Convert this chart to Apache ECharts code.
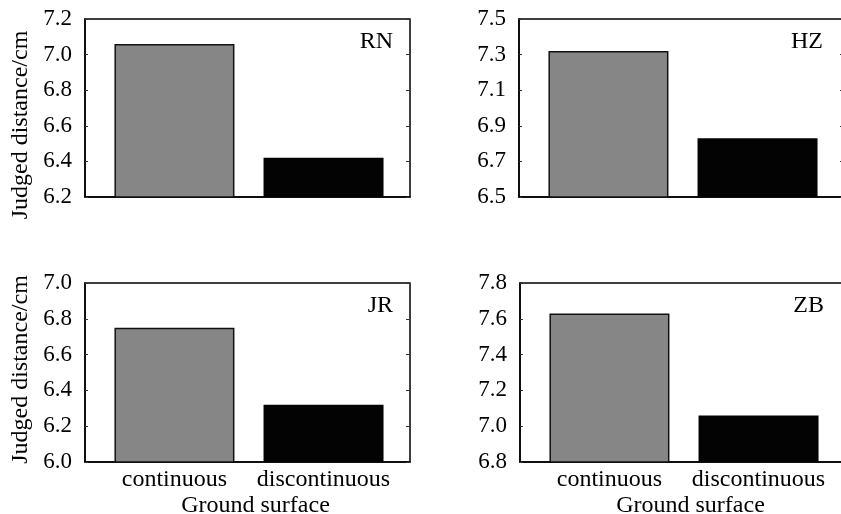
<!DOCTYPE html>
<html>
<head>
<meta charset="utf-8">
<script src="https://cdn.jsdelivr.net/npm/echarts@6/dist/echarts.min.js"></script>
<style>
  html, body { margin: 0; padding: 0; background: #fff; }
  #chart { width: 841px; height: 514px; }
</style>
</head>
<body>
<div id="chart"></div>
<script>
// Ground surface categories shared by all four observers
const categories = ['continuous', 'discontinuous'];
const observers = ['RN', 'HZ', 'JR', 'ZB'];

// Mean judged distance (cm) per observer
const rnValues = [7.06, 6.42];
const hzValues = [7.32, 6.83];
const jrValues = [6.75, 6.32];
const zbValues = [7.63, 7.06];

// Y tick values per observer panel
const rnTicks = [6.2, 6.4, 6.6, 6.8, 7.0, 7.2];
const hzTicks = [6.5, 6.7, 6.9, 7.1, 7.3, 7.5];
const jrTicks = [6.0, 6.2, 6.4, 6.6, 6.8, 7.0];
const zbTicks = [6.8, 7.0, 7.2, 7.4, 7.6, 7.8];

const yAxisTitle = 'Judged distance/cm';
const xAxisTitle = 'Ground surface';

const FONT = '"Liberation Serif", "Times New Roman", serif';
const barColors = ['#868686', '#030303'];

const panels = [
  { name: observers[0], values: rnValues, ticks: rnTicks, left: 85, top: 19, height: 178, bottomRow: false },
  { name: observers[1], values: hzValues, ticks: hzTicks, left: 519, top: 19, height: 178, bottomRow: false },
  { name: observers[2], values: jrValues, ticks: jrTicks, left: 85, top: 283, height: 179, bottomRow: true },
  { name: observers[3], values: zbValues, ticks: zbTicks, left: 520, top: 283, height: 179, bottomRow: true }
];
const panelWidth = 325;

const grids = [], xAxes = [], yAxes = [], series = [], graphics = [];

panels.forEach((p, i) => {
  const isLeftCol = (i % 2 === 0);
  grids.push({
    left: p.left, top: p.top, width: panelWidth, height: p.height,
    show: true, borderColor: '#000', borderWidth: 1.5, backgroundColor: 'transparent',
    containLabel: false, outerBoundsMode: 'none'
  });
  xAxes.push({
    type: 'value', gridIndex: i, min: -0.6, max: 1.58,
    axisLine: { show: true, onZero: false, lineStyle: { color: '#000', width: 1.5 } },
    axisTick: { show: false },
    splitLine: { show: false },
    axisLabel: {
      show: p.bottomRow,
      customValues: [0, 1],
      formatter: v => categories[Math.round(v)],
      color: '#000', fontFamily: FONT, fontSize: 24, margin: 6
    },
    name: p.bottomRow ? xAxisTitle : '',
    nameLocation: 'middle', nameGap: 32,
    nameTextStyle: { color: '#000', fontFamily: FONT, fontSize: 24, padding: [0, 0, 0, 16] }
  });
  const tMin = p.ticks[0], tMax = p.ticks[p.ticks.length - 1];
  yAxes.push({
    type: 'value', gridIndex: i, position: 'left', min: tMin, max: tMax,
    axisLine: { show: true, onZero: false, lineStyle: { color: '#000', width: 1.5 } },
    axisTick: { show: true, inside: true, length: 3, customValues: p.ticks, lineStyle: { color: '#333', width: 1 } },
    splitLine: { show: false },
    axisLabel: {
      customValues: p.ticks,
      formatter: v => v.toFixed(1),
      color: '#000', fontFamily: FONT, fontSize: 23, margin: 13
    },
    name: isLeftCol ? yAxisTitle : '',
    nameLocation: 'middle', nameGap: 52, nameRotate: 90,
    nameTextStyle: {
      color: '#000', fontFamily: FONT, fontSize: 24,
      padding: p.bottomRow ? [0, 0, 0, 6] : [0, 34, 0, 0]
    }
  });
  // inward tick marks along the right frame edge
  yAxes.push({
    type: 'value', gridIndex: i, position: 'right', min: tMin, max: tMax,
    axisLine: { show: false, onZero: false },
    axisTick: { show: true, inside: true, length: 4, customValues: p.ticks, lineStyle: { color: '#333', width: 1 } },
    axisLabel: { show: false },
    splitLine: { show: false }
  });
  series.push({
    type: 'bar', xAxisIndex: i, yAxisIndex: i * 2,
    barWidth: 120,
    z: 3,
    data: p.values.map((v, k) => ({
      value: [k, v],
      itemStyle: {
        color: barColors[k],
        borderColor: '#111',
        borderWidth: k === 0 ? 1.5 : 0
      }
    })),
    animation: false
  });
  graphics.push({
    type: 'text',
    x: p.left + (isLeftCol ? 308 : 304),
    y: p.top + 23,
    style: {
      text: p.name, fill: '#000', font: '24px ' + FONT,
      textAlign: 'right', textVerticalAlign: 'middle'
    }
  });
});

const chart = echarts.init(document.getElementById('chart'), null, { renderer: 'canvas' });
chart.setOption({
  backgroundColor: '#fff',
  animation: false,
  grid: grids,
  xAxis: xAxes,
  yAxis: yAxes,
  series: series,
  graphic: graphics
});
</script>
</body>
</html>
